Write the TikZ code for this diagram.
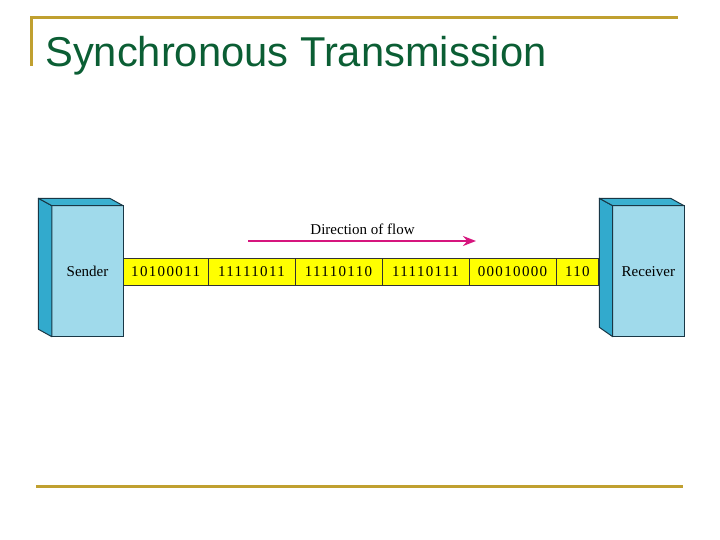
\documentclass[tikz,border=0pt]{standalone}
\usepackage{fontspec}
\setmainfont{Liberation Serif}
\newfontfamily\titlefont{Liberation Sans}
\usetikzlibrary{arrows.meta}
\definecolor{gold}{RGB}{192,160,48}
\definecolor{titlegreen}{RGB}{11,94,52}
\definecolor{frontblue}{RGB}{160,218,235}
\definecolor{sideblue}{RGB}{50,170,205}
\definecolor{topblue}{RGB}{58,176,208}
\definecolor{edgedark}{RGB}{25,55,70}
\definecolor{flowmag}{RGB}{214,21,126}
\definecolor{cellyellow}{RGB}{255,255,0}
\tikzset{
  rule/.style={draw=gold, line width=3pt},
  front/.style={draw=edgedark, fill=frontblue, line width=1pt, minimum width=71.3pt, minimum height=131pt, inner sep=0pt, outer sep=0pt, font=\fontsize{15}{15}\selectfont},
  face/.style={draw=edgedark, line width=1pt, line join=round},
  cell/.style={draw=black!80, fill=cellyellow, line width=0.7pt, minimum height=26.7pt, inner sep=0pt, outer sep=0pt, font=\fontsize{15}{15}\selectfont\addfontfeature{LetterSpace=9}},
  flow/.style={draw=flowmag, line width=2pt, -{Stealth[length=13pt,width=10pt]}},
}
\begin{document}
\begin{tikzpicture}[x=1pt,y=-1pt]
\useasboundingbox (0,0) rectangle (720,540);
% title frame
\coordinate (tl) at (30,18);
\coordinate (tr) at (678,18);
\coordinate (vb) at (31.5,66);
\coordinate (vt) at (31.5,18);
\draw[rule] (tl) -- (tr);
\draw[rule, line width=2.2pt] (vt) -- (vb);
\node[anchor=base west, inner sep=0pt, text=titlegreen, font=\titlefont\fontsize{41.7}{42}\selectfont] (title) at (45,66.5) {Synchronous Transmission};
% bottom rule
\coordinate (bl) at (36,486);
\coordinate (br) at (683,486);
\draw[rule] (bl) -- (br);
% cells
\node[cell, minimum width=84.7pt] (c1) at (165.65,271.6) {10100011};
\node[cell, minimum width=87pt, anchor=west] (c2) at (c1.east) {11111011};
\node[cell, minimum width=87pt, anchor=west] (c3) at (c2.east) {11110110};
\node[cell, minimum width=87pt, anchor=west] (c4) at (c3.east) {11110111};
\node[cell, minimum width=87pt, anchor=west] (c5) at (c4.east) {00010000};
\node[cell, minimum width=42.7pt, anchor=west] (c6) at (c5.east) {110};
% sender
\node[front] (sender) at (87.5,271.2) {Sender};
\draw[face, fill=sideblue] (sender.north west) -- ++(-13.4,-7.4) -- ([shift={(-13.4,-7.4)}]sender.south west) -- (sender.south west) -- cycle;
\draw[face, fill=topblue] (sender.north west) -- ++(-13.4,-7.4) -- ([shift={(-13.4,-7.4)}]sender.north east) -- (sender.north east) -- cycle;
% receiver
\node[front] (receiver) at (648.35,271.2) {Receiver};
\draw[face, fill=sideblue] (receiver.north west) -- ++(-13.4,-7.4) -- ([shift={(-13.4,-9.4)}]receiver.south west) -- (receiver.south west) -- cycle;
\draw[face, fill=topblue] (receiver.north west) -- ++(-13.4,-7.4) -- ([shift={(-13.4,-7.4)}]receiver.north east) -- (receiver.north east) -- cycle;
% flow arrow
\coordinate (f0) at (248,241);
\coordinate (f1) at (476,241);
\draw[flow] (f0) -- (f1);
\node[font=\fontsize{15}{15}\selectfont, inner sep=0pt] (flowlabel) at (362.5,229.5) {Direction of flow};
\end{tikzpicture}
\end{document}
